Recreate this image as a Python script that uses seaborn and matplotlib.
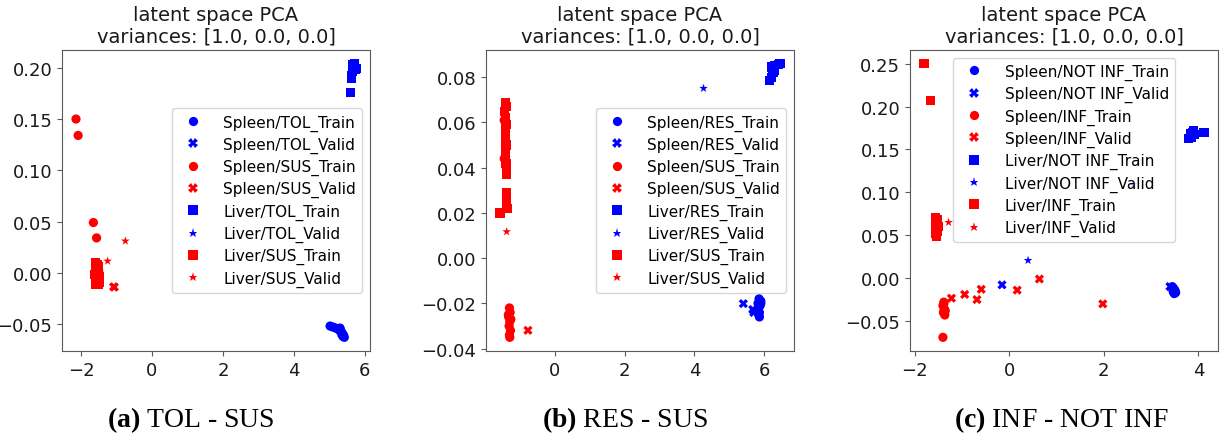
import matplotlib
matplotlib.use("Agg")
import matplotlib.pyplot as plt
from matplotlib.ticker import MultipleLocator
import pandas as pd
import seaborn as sns

# ---------------------------------------------------------------- data
# (a) TOL - SUS
a_spleen_tol_train_x = [5.02, 5.10, 5.18, 5.25, 5.30, 5.33, 5.36, 5.40, 5.42, 5.38, 5.28, 5.35]
a_spleen_tol_train_y = [-0.052, -0.053, -0.054, -0.055, -0.054, -0.057, -0.059, -0.061, -0.063, -0.062, -0.056, -0.060]
a_spleen_tol_valid_x = [5.30, 5.36]
a_spleen_tol_valid_y = [-0.056, -0.060]
a_spleen_sus_train_x = [-2.14, -2.08, -1.65, -1.56, -1.55, -1.52, -1.50, -1.48]
a_spleen_sus_train_y = [0.150, 0.134, 0.049, 0.034, 0.005, -0.004, 0.002, -0.008]
a_spleen_sus_valid_x = [-1.08, -1.06]
a_spleen_sus_valid_y = [-0.0137, -0.0140]
a_liver_tol_train_x = [5.59, 5.62, 5.65, 5.68, 5.70, 5.72, 5.66, 5.75, 5.63]
a_liver_tol_train_y = [0.176, 0.192, 0.196, 0.200, 0.204, 0.198, 0.203, 0.199, 0.190]
a_liver_tol_valid_x = [5.64]
a_liver_tol_valid_y = [0.195]
a_liver_sus_train_x = [-1.58, -1.55, -1.52, -1.60, -1.50, -1.57, -1.62, -1.48, -1.55, -1.60, -1.47, -1.53, -1.58, -1.50]
a_liver_sus_train_y = [0.010, 0.008, 0.006, 0.004, 0.002, 0.000, -0.002, -0.004, -0.006, -0.008, -0.009, -0.011, -0.011, -0.011]
a_liver_sus_valid_x = [-1.25, -0.75]
a_liver_sus_valid_y = [0.0114, 0.031]

# (b) RES - SUS
b_spleen_res_train_x = [5.85, 5.90, 5.88, 5.83, 5.86, 5.80, 5.84, 5.90, 5.82, 5.86]
b_spleen_res_train_y = [-0.018, -0.019, -0.021, -0.022, -0.024, -0.023, -0.025, -0.020, -0.020, -0.026]
b_spleen_res_valid_x = [5.40, 5.67, 5.70]
b_spleen_res_valid_y = [-0.0201, -0.0227, -0.024]
b_spleen_sus_train_x = [-1.30, -1.28, -1.32, -1.29, -1.31, -1.27, -1.30, -1.29, -1.33, -1.26, -1.45, -1.45]
b_spleen_sus_train_y = [-0.022, -0.024, -0.026, -0.028, -0.030, -0.032, -0.034, -0.035, -0.025, -0.027, 0.061, 0.044]
b_spleen_sus_valid_x = [-0.77]
b_spleen_sus_valid_y = [-0.0319]
b_liver_res_train_x = [6.15, 6.20, 6.25, 6.22, 6.30, 6.45, 6.40, 6.28]
b_liver_res_train_y = [0.0785, 0.0800, 0.0820, 0.0845, 0.0850, 0.0860, 0.0855, 0.0830]
b_liver_res_valid_x = [4.26]
b_liver_res_valid_y = [0.0751]
b_liver_sus_train_x = [-1.42, -1.40, -1.43, -1.41, -1.40, -1.42, -1.41, -1.40, -1.42, -1.41, -1.40, -1.38, -1.38, -1.38, -1.38, -1.37, -1.57]
b_liver_sus_train_y = [0.069, 0.067, 0.065, 0.062, 0.059, 0.056, 0.053, 0.050, 0.047, 0.045, 0.042, 0.039, 0.037, 0.029, 0.025, 0.022, 0.020]
b_liver_sus_valid_x = [-1.38]
b_liver_sus_valid_y = [0.0117]

# (c) INF - NOT INF
c_spleen_notinf_train_x = [3.45, 3.48, 3.50, 3.47, 3.52, 3.49, 3.51, 3.46]
c_spleen_notinf_train_y = [-0.010, -0.012, -0.014, -0.016, -0.017, -0.018, -0.015, -0.013]
c_spleen_notinf_valid_x = [-0.15, 3.40]
c_spleen_notinf_valid_y = [-0.0078, -0.0098]
c_spleen_inf_train_x = [-1.38, -1.40, -1.37, -1.39, -1.36, -1.38, -1.35, -1.40]
c_spleen_inf_train_y = [-0.028, -0.032, -0.036, -0.040, -0.043, -0.030, -0.038, -0.069]
c_spleen_inf_valid_x = [-1.22, -0.94, -0.68, -0.59, 0.17, 0.64, 1.98]
c_spleen_inf_valid_y = [-0.0234, -0.019, -0.025, -0.013, -0.014, -0.001, -0.030]
c_liver_notinf_train_x = [3.80, 3.85, 3.88, 3.90, 3.83, 3.92, 4.12, 3.86]
c_liver_notinf_train_y = [0.163, 0.166, 0.170, 0.172, 0.168, 0.167, 0.170, 0.164]
c_liver_notinf_valid_x = [0.40, 2.62]
c_liver_notinf_valid_y = [0.0207, 0.109]
c_liver_inf_train_x = [-1.80, -1.67, -1.56, -1.55, -1.53, -1.56, -1.52, -1.55, -1.53, -1.50, -1.52]
c_liver_inf_train_y = [0.250, 0.207, 0.071, 0.066, 0.062, 0.058, 0.055, 0.052, 0.049, 0.060, 0.068]
c_liver_inf_valid_x = [-1.28]
c_liver_inf_valid_y = [0.065]

captions = ["(a)", "(b)", "(c)"]
caption_texts = ["TOL - SUS", "RES - SUS", "INF - NOT INF"]
# ----------------------------------------------------------------------

plt.rcParams.update({
    "font.family": ["DejaVu Sans"],
    "mathtext.fontset": "custom",
    "mathtext.rm": "Liberation Serif",
    "mathtext.bf": "Liberation Serif:bold",
    "axes.edgecolor": "#5a5a5a",
    "xtick.color": "#5a5a5a",
    "ytick.color": "#5a5a5a",
    "xtick.labelcolor": "#1a1a1a",
    "ytick.labelcolor": "#1a1a1a",
    "xtick.labelsize": 13,
    "ytick.labelsize": 13,
})


def build(groups):
    rows = []
    for label, xs, ys in groups:
        for x, y in zip(xs, ys):
            rows.append({"pc1": x, "pc2": y, "group": label})
    return pd.DataFrame(rows)


def styles(pos, neg):
    order = [f"Spleen/{pos}_Train", f"Spleen/{pos}_Valid",
             f"Spleen/{neg}_Train", f"Spleen/{neg}_Valid",
             f"Liver/{pos}_Train", f"Liver/{pos}_Valid",
             f"Liver/{neg}_Train", f"Liver/{neg}_Valid"]
    colors = ["blue", "blue", "red", "red", "blue", "blue", "red", "red"]
    marks = ["o", "X", "o", "X", "s", "*", "s", "*"]
    return order, dict(zip(order, colors)), dict(zip(order, marks))


panels = []
order, pal, mk = styles("TOL", "SUS")
panels.append((build([
    (order[0], a_spleen_tol_train_x, a_spleen_tol_train_y),
    (order[1], a_spleen_tol_valid_x, a_spleen_tol_valid_y),
    (order[2], a_spleen_sus_train_x, a_spleen_sus_train_y),
    (order[3], a_spleen_sus_valid_x, a_spleen_sus_valid_y),
    (order[4], a_liver_tol_train_x, a_liver_tol_train_y),
    (order[5], a_liver_tol_valid_x, a_liver_tol_valid_y),
    (order[6], a_liver_sus_train_x, a_liver_sus_train_y),
    (order[7], a_liver_sus_valid_x, a_liver_sus_valid_y),
]), order, pal, mk, "center right", 2, 0.05))

order, pal, mk = styles("RES", "SUS")
panels.append((build([
    (order[0], b_spleen_res_train_x, b_spleen_res_train_y),
    (order[1], b_spleen_res_valid_x, b_spleen_res_valid_y),
    (order[2], b_spleen_sus_train_x, b_spleen_sus_train_y),
    (order[3], b_spleen_sus_valid_x, b_spleen_sus_valid_y),
    (order[4], b_liver_res_train_x, b_liver_res_train_y),
    (order[5], b_liver_res_valid_x, b_liver_res_valid_y),
    (order[6], b_liver_sus_train_x, b_liver_sus_train_y),
    (order[7], b_liver_sus_valid_x, b_liver_sus_valid_y),
]), order, pal, mk, "center right", 2, 0.02))

order, pal, mk = styles("NOT INF", "INF")
panels.append((build([
    (order[0], c_spleen_notinf_train_x, c_spleen_notinf_train_y),
    (order[1], c_spleen_notinf_valid_x, c_spleen_notinf_valid_y),
    (order[2], c_spleen_inf_train_x, c_spleen_inf_train_y),
    (order[3], c_spleen_inf_valid_x, c_spleen_inf_valid_y),
    (order[4], c_liver_notinf_train_x, c_liver_notinf_train_y),
    (order[5], c_liver_notinf_valid_x, c_liver_notinf_valid_y),
    (order[6], c_liver_inf_train_x, c_liver_inf_train_y),
    (order[7], c_liver_inf_valid_x, c_liver_inf_valid_y),
]), order, pal, mk, "upper center", 2, 0.05))

fig = plt.figure(figsize=(12.25, 4.35), dpi=100)
lefts = [62 / 1225, 486 / 1225, 910 / 1225]
width = 308 / 1225
bottom = 1 - 352 / 435
height = 301 / 435
caption_x = [191 / 1225, 625 / 1225, 1062 / 1225]

for i, (df, order, pal, mk, loc, xstep, ystep) in enumerate(panels):
    ax = fig.add_axes([lefts[i], bottom, width, height])
    sns.scatterplot(data=df, x="pc1", y="pc2", hue="group", style="group",
                    hue_order=order, style_order=order, palette=pal,
                    markers=mk, s=44, linewidth=0, ax=ax)
    ax.set_xlabel("")
    ax.set_ylabel("")
    ax.xaxis.set_major_locator(MultipleLocator(xstep))
    ax.yaxis.set_major_locator(MultipleLocator(ystep))
    ax.set_title("latent space PCA\nvariances: [1.0, 0.0, 0.0]", fontsize=14,
                 color="#1a1a1a")
    ax.legend(loc=loc, fontsize=11, labelspacing=0.4, handletextpad=1.0)
    fig.text(caption_x[i], 1 - 427 / 435,
             r"$\mathbf{" + captions[i] + "}$ " + caption_texts[i],
             ha="center", va="baseline", family="Liberation Serif",
             fontsize=20)

fig.savefig("out.png", dpi=100)
